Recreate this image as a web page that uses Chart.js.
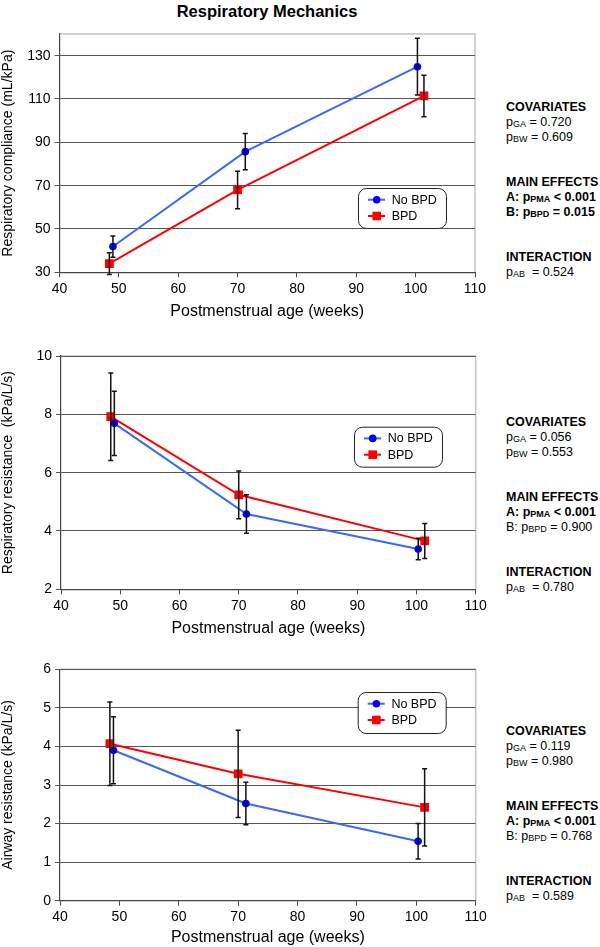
<!DOCTYPE html>
<html><head><meta charset="utf-8">
<script src="https://cdn.jsdelivr.net/npm/chart.js@4.4.0/dist/chart.umd.min.js"></script>
<style>
body{margin:0;width:600px;height:947px;position:relative;background:#fff;font-family:"Liberation Sans",Arial,sans-serif;overflow:hidden;color:#000}
canvas{position:absolute;left:0}
.title{position:absolute;top:1px;left:59px;width:416px;text-align:center;font-weight:bold;font-size:16.5px;line-height:20px}
.stats{position:absolute;left:506px;font-size:12.5px;line-height:15px;white-space:nowrap}
.stats div{height:15px}
.stats .gap{height:30px}
.s{font-size:9px;position:relative;top:1px}
</style>
</head><body>
<div class="title">Respiratory Mechanics</div>
<div class="stats" style="top:100px">
<div><b>COVARIATES</b></div>
<div>p<span class="s">GA</span> = 0.720</div>
<div>p<span class="s">BW</span> = 0.609</div>
<div class="gap"></div>
<div><b>MAIN EFFECTS</b></div>
<div><b>A: p<span class="s">PMA</span> &lt; 0.001</b></div>
<div><b>B: p<span class="s">BPD</span> = 0.015</b></div>
<div class="gap"></div>
<div><b>INTERACTION</b></div>
<div>p<span class="s">AB</span>&nbsp; = 0.524</div>
</div>
<div class="stats" style="top:414.5px">
<div><b>COVARIATES</b></div>
<div>p<span class="s">GA</span> = 0.056</div>
<div>p<span class="s">BW</span> = 0.553</div>
<div class="gap"></div>
<div><b>MAIN EFFECTS</b></div>
<div><b>A: p<span class="s">PMA</span> &lt; 0.001</b></div>
<div>B: p<span class="s">BPD</span> = 0.900</div>
<div class="gap"></div>
<div><b>INTERACTION</b></div>
<div>p<span class="s">AB</span>&nbsp; = 0.780</div>
</div>
<div class="stats" style="top:723.5px">
<div><b>COVARIATES</b></div>
<div>p<span class="s">GA</span> = 0.119</div>
<div>p<span class="s">BW</span> = 0.980</div>
<div class="gap"></div>
<div><b>MAIN EFFECTS</b></div>
<div><b>A: p<span class="s">PMA</span> &lt; 0.001</b></div>
<div>B: p<span class="s">BPD</span> = 0.768</div>
<div class="gap"></div>
<div><b>INTERACTION</b></div>
<div>p<span class="s">AB</span>&nbsp; = 0.589</div>
</div>
<canvas id="c1" style="top:0px;width:600px;height:325px" width="600" height="325"></canvas>
<canvas id="c2" style="top:320px;width:600px;height:320px" width="600" height="320"></canvas>
<canvas id="c3" style="top:630px;width:600px;height:317px" width="600" height="317"></canvas>
<script>
// ---- data ----
const seriesNames = ["No BPD", "BPD"];
const xTicks = [40, 50, 60, 70, 80, 90, 100, 110];
const weeksNoBPD = [49.0, 71.3, 100.3];
const weeksBPD = [48.4, 70.0, 101.4];

const complianceTicks = [30, 50, 70, 90, 110, 130];
const complianceNoBPD = [41.9, 85.7, 124.9];
const complianceNoBPDErr = [4.9, 8.4, 13.1];
const complianceBPD = [34.0, 68.0, 111.4];
const complianceBPDErr = [5.0, 8.7, 9.6];

const resistanceTicks = [2, 4, 6, 8, 10];
const resistanceNoBPD = [7.69, 4.58, 3.38];
const resistanceNoBPDErr = [1.1, 0.66, 0.37];
const resistanceBPD = [7.92, 5.24, 3.66];
const resistanceBPDErr = [1.5, 0.82, 0.6];

const airwayTicks = [0, 1, 2, 3, 4, 5, 6];
const airwayNoBPD = [3.90, 2.52, 1.54];
const airwayNoBPDErr = [0.87, 0.55, 0.46];
const airwayBPD = [4.07, 3.29, 2.42];
const airwayBPDErr = [1.08, 1.13, 1.0];

const FONT = '"Liberation Sans", Arial, sans-serif';

const framePlugin = {
  id: 'frame',
  beforeDraw(chart) {
    const a = chart.chartArea, ctx = chart.ctx;
    ctx.save();
    ctx.strokeStyle = '#c4c4c4';
    ctx.lineWidth = 1.5;
    ctx.beginPath();
    ctx.moveTo(a.left, a.top); ctx.lineTo(a.right, a.top); ctx.lineTo(a.right, a.bottom);
    ctx.stroke();
    ctx.restore();
  }
};

const errorPlugin = {
  id: 'errbars',
  afterDatasetsDraw(chart) {
    const ctx = chart.ctx, xs = chart.scales.x, ys = chart.scales.y;
    ctx.save();
    ctx.strokeStyle = '#111';
    ctx.lineWidth = 1.5;
    chart.data.datasets.forEach(ds => {
      ds.data.forEach((p, i) => {
        const e = ds.errors[i];
        const px = xs.getPixelForValue(p.x);
        const t = ys.getPixelForValue(p.y + e), b = ys.getPixelForValue(p.y - e);
        ctx.beginPath();
        ctx.moveTo(px, t); ctx.lineTo(px, b);
        ctx.moveTo(px - 2.5, t); ctx.lineTo(px + 2.5, t);
        ctx.moveTo(px - 2.5, b); ctx.lineTo(px + 2.5, b);
        ctx.stroke();
      });
    });
    ctx.restore();
  }
};

const legendPlugin = {
  id: 'boxlegend',
  afterDraw(chart, args, opts) {
    const ctx = chart.ctx;
    const {x, y, w, h} = opts;
    ctx.save();
    ctx.fillStyle = '#fff';
    ctx.strokeStyle = '#222';
    ctx.lineWidth = 1;
    ctx.beginPath();
    ctx.roundRect(x + 0.5, y + 0.5, w, h, 8);
    ctx.fill(); ctx.stroke();
    chart.data.datasets.forEach((ds, i) => {
      const cy = y + 11.7 + i * 16.3;
      ctx.strokeStyle = ds.borderColor;
      ctx.lineWidth = 2;
      ctx.beginPath(); ctx.moveTo(x + 10, cy); ctx.lineTo(x + 27, cy); ctx.stroke();
      ctx.fillStyle = ds.pointBackgroundColor;
      if (ds.pointStyle === 'rect') {
        ctx.fillRect(x + 18.7 - 4.3, cy - 4.3, 8.6, 8.6);
      } else {
        ctx.beginPath(); ctx.arc(x + 18.7, cy, 3.8, 0, Math.PI * 2); ctx.fill();
      }
      ctx.fillStyle = '#000';
      ctx.font = '12.5px ' + FONT;
      ctx.textBaseline = 'middle';
      ctx.fillText(ds.label, x + 33.7, cy + 0.5);
    });
    ctx.restore();
  }
};

function makeDataset(label, xsArr, ysArr, errs, lineColor, markColor, style, radius) {
  return {
    label: label,
    data: xsArr.map((xv, i) => ({x: xv, y: ysArr[i]})),
    errors: errs,
    borderColor: lineColor,
    backgroundColor: markColor,
    pointBackgroundColor: markColor,
    pointBorderColor: markColor,
    pointBorderWidth: 0,
    pointStyle: style,
    pointRadius: radius,
    borderWidth: 2,
    tension: 0,
    fill: false
  };
}

function makePanel(id, cfg) {
  const H = cfg.canvasH;
  new Chart(document.getElementById(id), {
    type: 'line',
    data: {
      datasets: [
        makeDataset(seriesNames[0], weeksNoBPD, cfg.noBPD, cfg.noBPDErr, '#3a6af2', '#0000ff', 'circle', 3.8),
        makeDataset(seriesNames[1], weeksBPD, cfg.bpd, cfg.bpdErr, '#ff0000', '#ff0000', 'rect', 6.2)
      ]
    },
    options: {
      responsive: false,
      animation: false,
      events: [],
      layout: {padding: {left: 0, right: 600 - cfg.right, top: cfg.top, bottom: H - cfg.bottom - cfg.xH}},
      plugins: {
        legend: {display: false},
        tooltip: {enabled: false},
        boxlegend: cfg.legend
      },
      scales: {
        x: {
          type: 'linear', min: 40, max: 110,
          afterBuildTicks: s => { s.ticks = xTicks.map(v => ({value: v})); },
          afterFit: s => { s.height = cfg.xH; },
          grid: {drawOnChartArea: false, drawTicks: true, tickLength: 5, color: '#444', lineWidth: 1},
          border: {display: true, color: '#444', width: 1.2},
          ticks: {font: {size: 14, family: FONT}, color: '#000', padding: 3, maxRotation: 0, autoSkip: false},
          title: {display: true, text: 'Postmenstrual age (weeks)', font: {size: 16, family: FONT}, color: '#000', padding: 0}
        },
        y: {
          type: 'linear', min: cfg.yMin, max: cfg.yMax,
          afterBuildTicks: s => { s.ticks = cfg.yTicks.map(v => ({value: v})); },
          afterFit: s => { s.width = cfg.left; },
          grid: {drawTicks: true, tickLength: 5, color: '#555', lineWidth: 1},
          border: {display: true, color: '#444', width: 1.2},
          ticks: {font: {size: 14, family: FONT}, color: '#000', padding: 4, autoSkip: false},
          title: {display: true, text: cfg.yTitle, font: {size: 14, family: FONT}, color: '#000', padding: 0}
        }
      }
    },
    plugins: [framePlugin, errorPlugin, legendPlugin]
  });
}

makePanel('c1', {
  canvasH: 325, left: 59.5, right: 475, top: 34, bottom: 272.3, xH: 49,
  yMin: 30, yMax: 140, yTicks: complianceTicks, yTitle: 'Respiratory compliance (mL/kPa)',
  noBPD: complianceNoBPD, noBPDErr: complianceNoBPDErr, bpd: complianceBPD, bpdErr: complianceBPDErr,
  legend: {x: 358, y: 188, w: 88, h: 40}
});
makePanel('c2', {
  canvasH: 320, left: 61, right: 475.7, top: 36, bottom: 269.3, xH: 48.6,
  yMin: 2, yMax: 10, yTicks: resistanceTicks, yTitle: 'Respiratory resistance  (kPa/L/s)',
  noBPD: resistanceNoBPD, noBPDErr: resistanceNoBPDErr, bpd: resistanceBPD, bpdErr: resistanceBPDErr,
  legend: {x: 354, y: 106.7, w: 88, h: 40}
});
makePanel('c3', {
  canvasH: 317, left: 60, right: 475.7, top: 39.3, bottom: 270.7, xH: 46.3,
  yMin: 0, yMax: 6, yTicks: airwayTicks, yTitle: 'Airway resistance (kPa/L/s)',
  noBPD: airwayNoBPD, noBPDErr: airwayNoBPDErr, bpd: airwayBPD, bpdErr: airwayBPDErr,
  legend: {x: 357.7, y: 62, w: 88, h: 41}
});
</script>
</body></html>
